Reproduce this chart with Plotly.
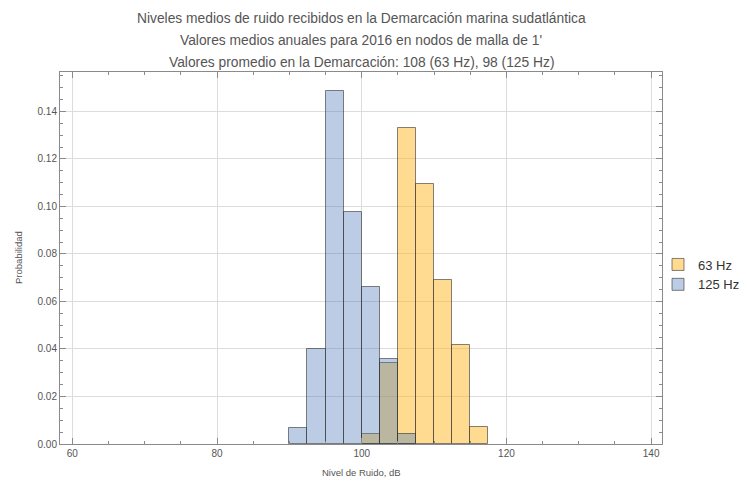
import plotly.graph_objects as go

# Bin left edges (dB), bin width 2.5 dB
bin_width = 2.5
edges_63 = [100.0, 102.5, 105.0, 107.5, 110.0, 112.5, 115.0]
prob_63 = [0.0041, 0.0339, 0.1331, 0.1095, 0.0690, 0.0418, 0.0070]

edges_125 = [90.0, 92.5, 95.0, 97.5, 100.0, 102.5, 105.0]
prob_125 = [0.0069, 0.0400, 0.1486, 0.0975, 0.0660, 0.0356, 0.0041]

series_names = ["63 Hz", "125 Hz"]
title_lines = [
    "Niveles medios de ruido recibidos en la Demarcación marina sudatlántica",
    "Valores medios anuales para 2016 en nodos de malla de 1'",
    "Valores promedio en la Demarcación: 108 (63 Hz), 98 (125 Hz)",
]
x_label = "Nivel de Ruido, dB"
y_label = "Probabilidad"

FONT = "Liberation Sans, Arial, sans-serif"
TXT = "#555555"

fig = go.Figure()
fig.add_trace(go.Bar(
    x=[e + bin_width / 2 for e in edges_63], y=prob_63, width=bin_width,
    name=series_names[0],
    marker=dict(color="rgba(255,184,35,0.5)",
                line=dict(color="rgba(50,50,50,0.6)", width=1)),
))
fig.add_trace(go.Bar(
    x=[e + bin_width / 2 for e in edges_125], y=prob_125, width=bin_width,
    name=series_names[1],
    marker=dict(color="rgba(75,120,185,0.38)",
                line=dict(color="rgba(50,50,50,0.6)", width=1)),
))

axis_common = dict(
    showline=True, linecolor="#8a8a8a", linewidth=1, mirror="allticks",
    ticks="inside", ticklen=6, tickcolor="#8a8a8a", tickwidth=1,
    showgrid=True, gridcolor="#dcdcdc", gridwidth=1, zeroline=False,
    tickfont=dict(family=FONT, size=10, color="#555555"),
)

# page body has an 8px default margin: shrink the figure to compensate
fig.update_layout(
    width=739, height=473,
    margin=dict(l=52, r=85, t=64, b=37, autoexpand=False),
    paper_bgcolor="white", plot_bgcolor="white",
    barmode="overlay", bargap=0,
    showlegend=True,
    legend=dict(xref="container", yref="container", x=650 / 739, y=0.4366,
                xanchor="left", yanchor="middle",
                font=dict(family=FONT, size=13, color="#333333"),
                bgcolor="rgba(0,0,0,0)", tracegroupgap=0, itemwidth=30),
    xaxis=dict(range=[58.3, 141.5], tickvals=[60, 80, 100, 120, 140],
               minor=dict(dtick=5, tick0=0, ticks="inside", ticklen=3,
                          tickcolor="#8a8a8a", showgrid=False),
               **axis_common),
    yaxis=dict(range=[0, 0.1566], tickvals=[0, 0.02, 0.04, 0.06, 0.08, 0.10, 0.12, 0.14],
               tickformat=".2f",
               minor=dict(dtick=0.005, tick0=0, ticks="inside", ticklen=3,
                          tickcolor="#8a8a8a", showgrid=False),
               **axis_common),
)

for i, line in enumerate(title_lines):
    fig.add_annotation(text=line, xref="paper", yref="paper", x=0.5,
                       y=1, yshift=72 - 18 - 22 * i, xanchor="center", yanchor="middle",
                       showarrow=False, font=dict(family=FONT, size=13.8, color=TXT))

fig.add_annotation(text=x_label, xref="paper", yref="paper", x=0.5, y=0, yshift=-28,
                   xanchor="center", yanchor="middle", showarrow=False,
                   font=dict(family=FONT, size=9.5, color=TXT))
fig.add_annotation(text=y_label, xref="paper", yref="paper", x=0, xshift=-42, y=0.5,
                   xanchor="center", yanchor="middle", textangle=-90, showarrow=False,
                   font=dict(family=FONT, size=9.5, color=TXT))

fig.write_html("out.html")
